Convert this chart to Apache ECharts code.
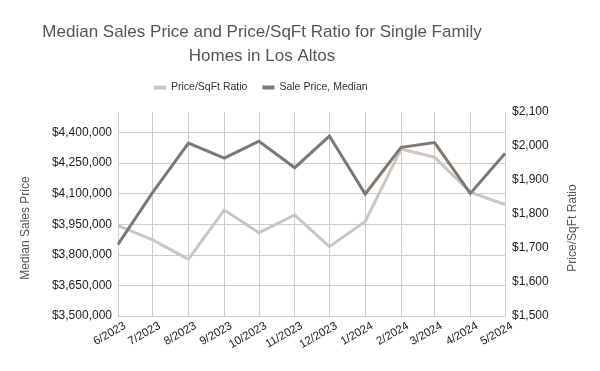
<!DOCTYPE html>
<html>
<head>
<meta charset="utf-8">
<script src="https://cdn.jsdelivr.net/npm/echarts@6/dist/echarts.min.js"></script>
<style>html,body{margin:0;padding:0;background:#fff}#c{width:600px;height:371px}</style>
</head>
<body>
<div id="c"></div>
<script>
const months = ['2023-06-01','2023-07-01','2023-08-01','2023-09-01','2023-10-01','2023-11-01','2023-12-01','2024-01-01','2024-02-01','2024-03-01','2024-04-01','2024-05-01'];
const pricePerSqFt = [1766,1724,1667,1812,1745,1797,1704,1778,1991,1967,1864,1828];
const medianPrice = [3851000,4106000,4348000,4274000,4357000,4227000,4382000,4098000,4327000,4350000,4101000,4297000];
const seriesNames = ['Price/SqFt Ratio','Sale Price, Median'];
const leftAxisName = 'Median Sales Price';
const rightAxisName = 'Price/SqFt Ratio';
const titleText = 'Median Sales Price and Price/SqFt Ratio for Single Family\nHomes in Los Altos';

const FONT = '"Liberation Sans", Arial, sans-serif';
const chart = echarts.init(document.getElementById('c'), null, {renderer:'canvas'});
const money = v => '$' + Math.round(v).toLocaleString('en-US');
chart.setOption({
  animation:false,
  textStyle:{fontFamily:FONT},
  title:{
    text:titleText, left:257, top:15, textAlign:'center',
    textStyle:{fontFamily:FONT, fontSize:17, fontWeight:'normal', color:'#555555', lineHeight:24}
  },
  legend:{
    left:149, top:77, itemWidth:12, itemHeight:4, itemGap:15, icon:'rect',
    textStyle:{fontFamily:FONT, fontSize:10.5, color:'#333333'},
    data:seriesNames
  },
  grid:{left:118, right:95, top:112, bottom:55, containLabel:false},
  xAxis:{
    type:'time',
    min:months[0], max:months[months.length-1],
    splitNumber:11,
    minInterval:27*86400000,
    axisLine:{show:true, lineStyle:{color:'#cccccc', width:1}},
    axisTick:{show:false},
    splitLine:{show:true, lineStyle:{color:'#cccccc', width:1}},
    axisLabel:{
      rotate:30, fontSize:11.5, color:'#222222', fontFamily:FONT, margin:13,
      padding:[0,-8,0,0],
      hideOverlap:false, showMinLabel:true, showMaxLabel:true,
      formatter:function(v){const d=new Date(v);return (d.getMonth()+1)+'/'+d.getFullYear();}
    }
  },
  yAxis:[{
    type:'value', min:3500000, max:4500000, interval:150000,
    name:leftAxisName, nameLocation:'middle', nameRotate:90, nameGap:86,
    nameTextStyle:{fontFamily:FONT, fontSize:12, color:'#555555', padding:[0,28,0,0]},
    axisLine:{show:false}, axisTick:{show:false},
    splitLine:{show:true, showMaxLine:false, lineStyle:{color:'#cccccc', width:1}},
    axisLabel:{fontSize:12, color:'#222222', fontFamily:FONT, margin:6, showMaxLabel:false, formatter:money}
  },{
    type:'value', min:1500, max:2100, interval:100, position:'right',
    name:rightAxisName, nameLocation:'middle', nameRotate:90, nameGap:62,
    nameTextStyle:{fontFamily:FONT, fontSize:12, color:'#555555', padding:[0,28,0,0]},
    axisLine:{show:false}, axisTick:{show:false}, splitLine:{show:false},
    axisLabel:{fontSize:12, color:'#222222', fontFamily:FONT, margin:7, formatter:money}
  }],
  series:[{
    name:seriesNames[0], type:'line', yAxisIndex:1, showSymbol:false, symbol:'none',
    itemStyle:{color:'#ccc5c1'},
    lineStyle:{color:'#ccc5c1', width:3, join:'miter'},
    data:months.map((m,i)=>[m, pricePerSqFt[i]])
  },{
    name:seriesNames[1], type:'line', yAxisIndex:0, showSymbol:false, symbol:'none',
    itemStyle:{color:'#7f7770'},
    lineStyle:{color:'#7f7770', width:3, join:'miter'},
    data:months.map((m,i)=>[m, medianPrice[i]])
  }]
});
</script>
</body>
</html>
